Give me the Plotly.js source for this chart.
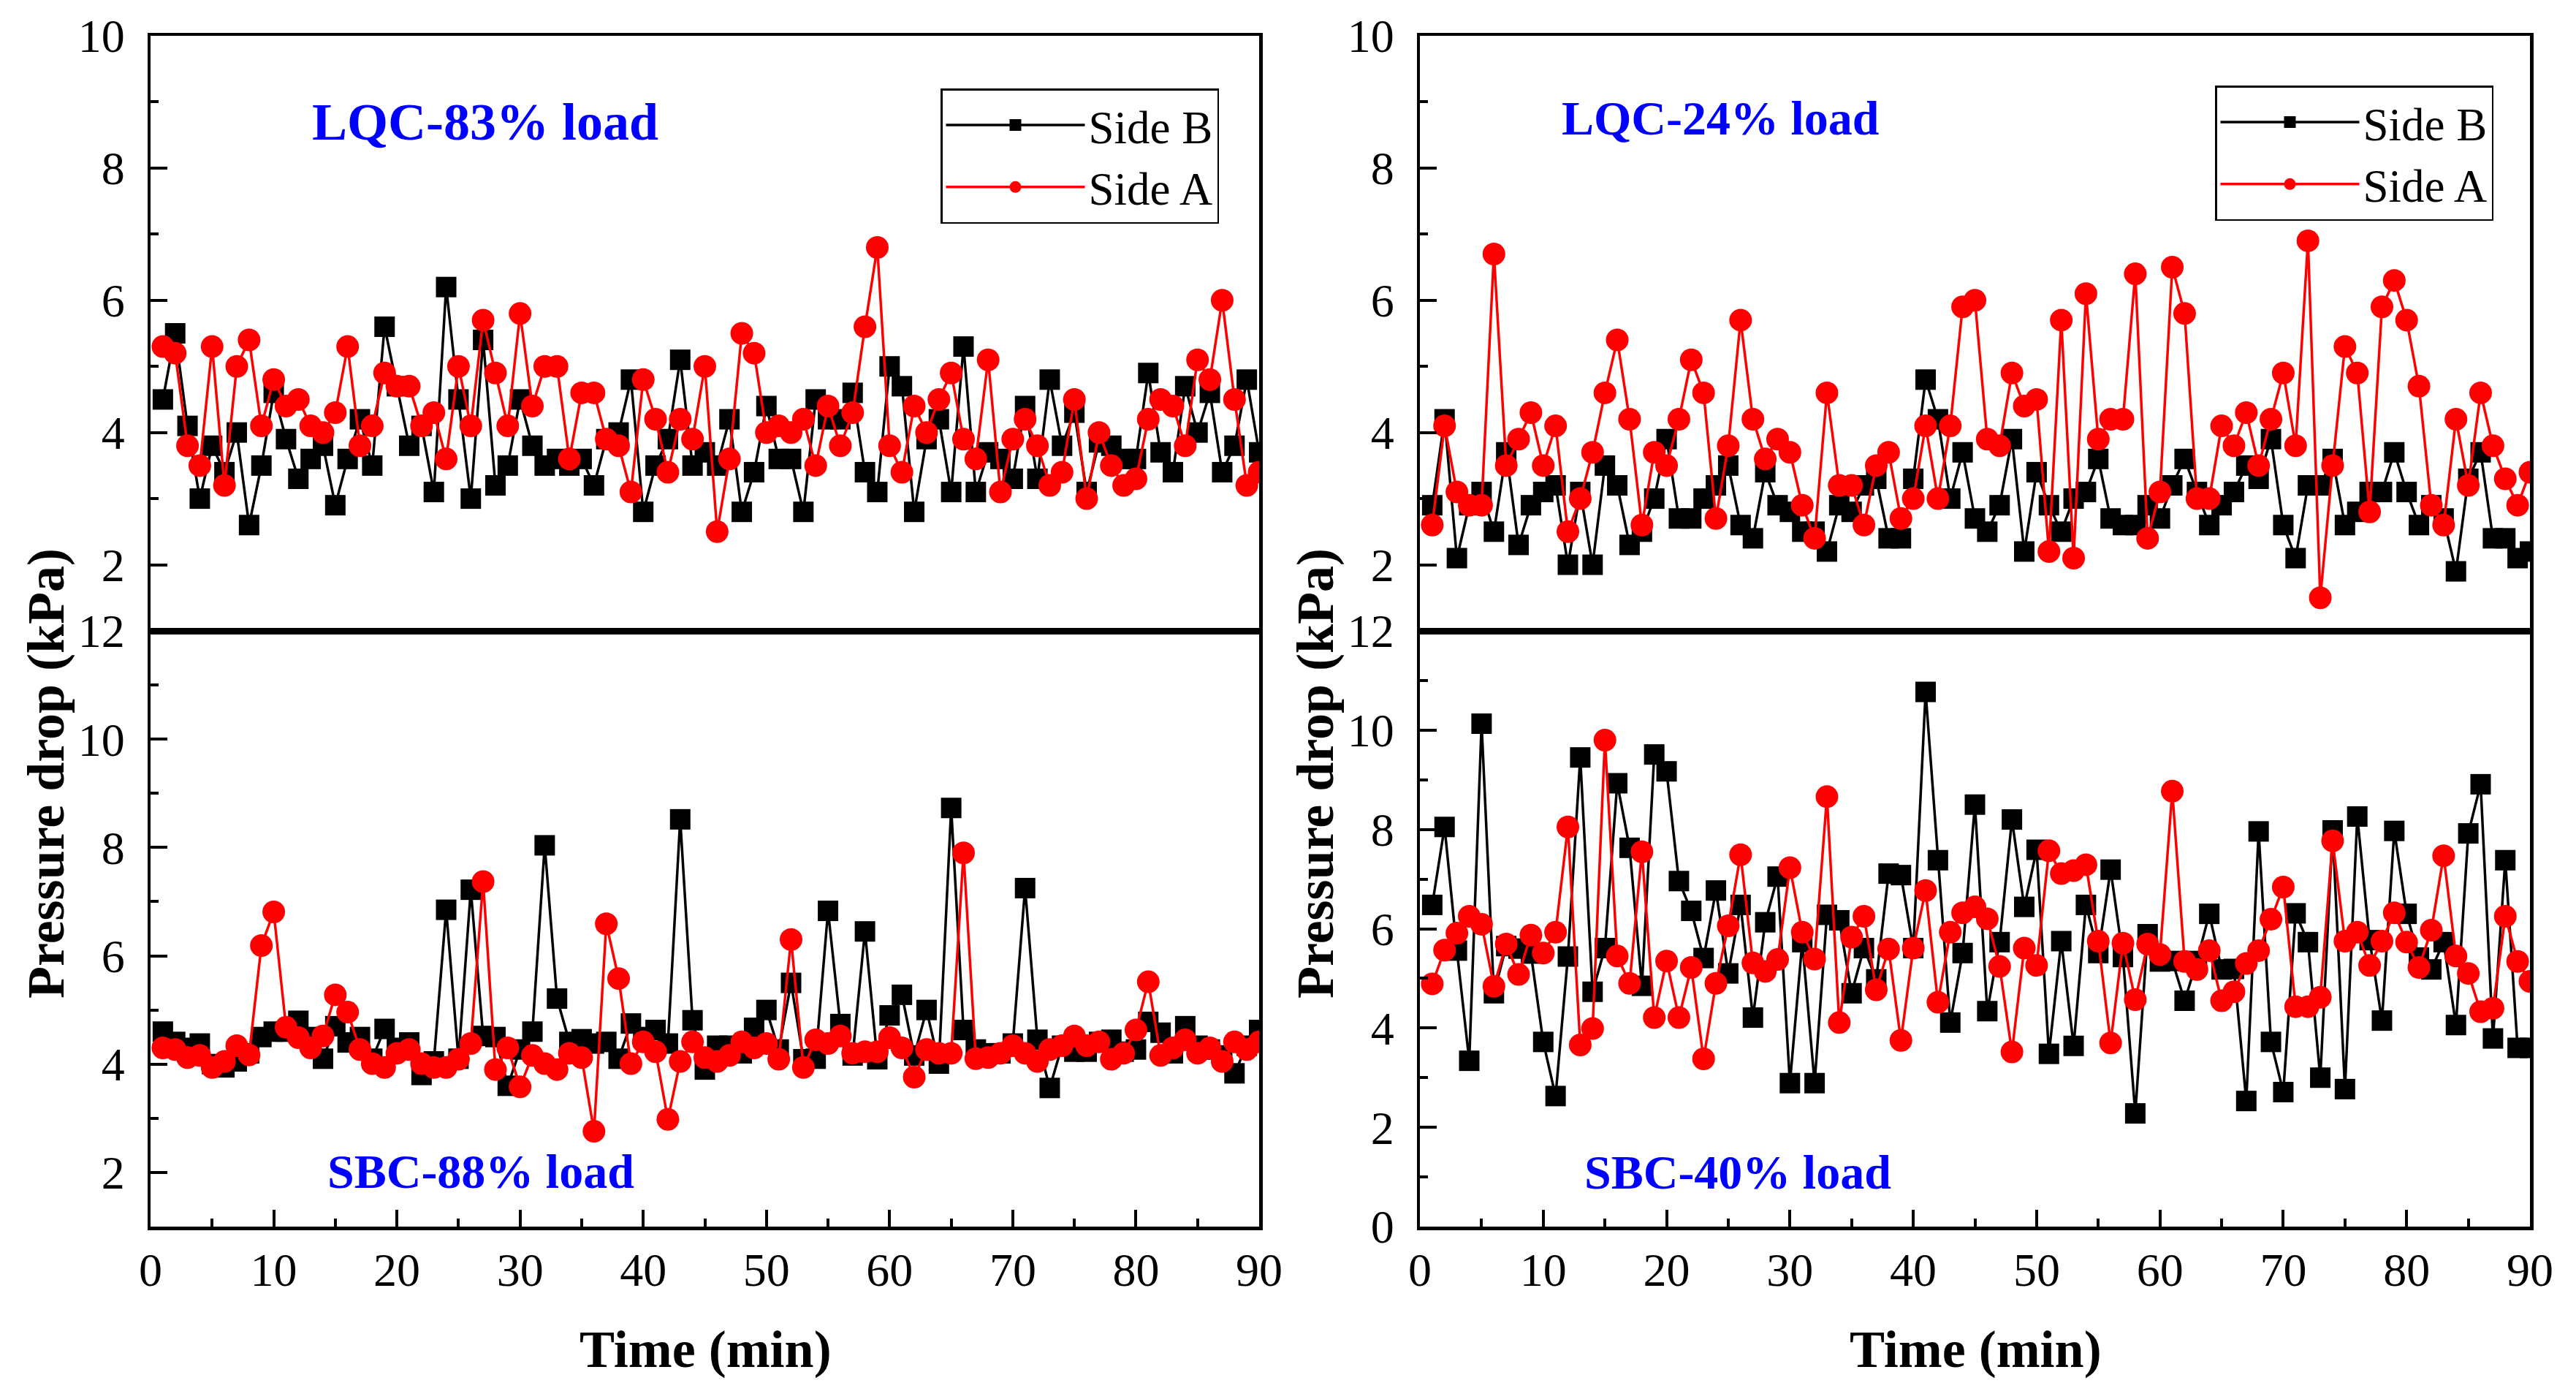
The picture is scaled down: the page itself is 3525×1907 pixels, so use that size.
<!DOCTYPE html>
<html>
<head>
<meta charset="utf-8">
<script src="https://cdn.plot.ly/plotly-3.0.1.min.js"></script>
<style>html,body{margin:0;padding:0;background:#fff;}</style>
</head>
<body>
<div id="chart" style="width:3525px;height:1907px;"></div>
<script>
// ---- data (minutes and pressure drop in kPa) ----
var time = [1,2,3,4,5,6,7,8,9,10,11,12,13,14,15,16,17,18,19,20,21,22,23,24,25,26,27,28,29,30,
31,32,33,34,35,36,37,38,39,40,41,42,43,44,45,46,47,48,49,50,51,52,53,54,55,56,57,58,59,60,
61,62,63,64,65,66,67,68,69,70,71,72,73,74,75,76,77,78,79,80,81,82,83,84,85,86,87,88,89,90];

var lqc83SideB = [4.5,5.5,4.1,3.0,3.8,3.4,4.0,2.6,3.5,4.6, 3.9,3.3,3.6,3.8,2.9,3.6,4.2,3.5,5.6,4.7,
3.8,4.1,3.1,6.2,4.5,3.0,5.4,3.2,3.5,4.5, 3.8,3.5,3.6,3.5,3.6,3.2,3.9,4.0,4.8,2.8,
3.5,3.9,5.1,3.5,3.7,3.5,4.2,2.8,3.4,4.4, 3.6,3.6,2.8,4.5,4.2,4.2,4.6,3.4,3.1,5.0,
4.7,2.8,3.9,4.2,3.1,5.3,3.1,3.7,3.6,3.3, 4.4,3.3,4.8,3.8,4.3,3.1,3.85,3.8,3.6,3.6,
4.9,3.7,3.4,4.7,4.0,4.6,3.4,3.8,4.8,3.7];
var lqc83SideA = [5.3,5.2,3.8,3.5,5.3,3.2,5.0,5.4,4.1,4.8, 4.4,4.5,4.1,4.0,4.3,5.3,3.8,4.1,4.9,4.7,
4.7,4.1,4.3,3.6,5.0,4.1,5.7,4.9,4.1,5.8, 4.4,5.0,5.0,3.6,4.6,4.6,3.9,3.8,3.1,4.8,
4.2,3.4,4.2,3.9,5.0,2.5,3.6,5.5,5.2,4.0, 4.1,4.0,4.2,3.5,4.4,3.8,4.3,5.6,6.8,3.8,
3.4,4.4,4.0,4.5,4.9,3.9,3.6,5.1,3.1,3.9, 4.2,3.8,3.2,3.4,4.5,3.0,4.0,3.5,3.2,3.3,
4.2,4.5,4.4,3.8,5.1,4.8,6.0,4.5,3.2,3.4];

var sbc88SideB = [4.6,4.41,4.3,4.38,4.0,3.94,4.05,4.2,4.5,4.6, 4.6,4.8,4.5,4.1,4.7,4.4,4.5,4.1,4.65,4.3,
4.4,3.8,4.05,6.85,4.1,7.22,4.52,4.5,3.6,4.27, 4.6,8.04,5.21,4.41,4.46,4.38,4.41,4.1,4.75,4.5,
4.63,4.38,8.52,4.81,3.9,4.34,4.34,4.2,4.67,5.0, 4.27,5.5,4.09,4.1,6.83,4.74,4.16,6.45,4.09,4.9,
5.28,4.16,5.0,4.01,8.73,4.63,4.27,4.2,4.2,4.38, 7.25,4.45,3.56,4.34,4.23,4.23,4.41,4.45,4.23,4.27,
4.78,4.58,4.2,4.7,4.34,4.27,4.16,3.83,4.34,4.63];
var sbc88SideA = [4.3,4.27,4.12,4.16,3.94,4.05,4.34,4.17,6.19,6.81, 4.68,4.49,4.3,4.52,5.28,4.96,4.27,4.01,3.94,4.2,
4.27,4.01,3.94,3.94,4.09,4.38,7.37,3.9,4.3,3.58, 4.16,4.01,3.9,4.2,4.12,2.76,6.59,5.58,4.01,4.41,
4.23,2.98,4.05,4.41,4.12,4.05,4.16,4.41,4.3,4.38, 4.09,6.3,3.94,4.45,4.38,4.52,4.2,4.23,4.23,4.49,
4.3,3.76,4.27,4.2,4.2,7.9,4.1,4.12,4.2,4.34, 4.2,4.05,4.27,4.34,4.52,4.34,4.41,4.09,4.2,4.63,
5.52,4.16,4.3,4.45,4.2,4.3,4.05,4.41,4.27,4.41];

var lqc24SideB = [2.9,4.2,2.1,2.9,3.1,2.5,3.7,2.3,2.9,3.1, 3.2,2.0,3.1,2.0,3.5,3.2,2.3,2.5,3.0,3.9,
2.7,2.7,3.0,3.2,3.5,2.6,2.4,3.4,2.9,2.8, 2.5,2.5,2.2,2.9,2.8,3.2,3.3,2.4,2.4,3.3,
4.8,4.2,3.0,3.7,2.7,2.5,2.9,3.9,2.2,3.4, 2.9,2.5,3.0,3.1,3.6,2.7,2.6,2.6,2.9,2.7,
3.2,3.6,3.1,2.6,2.9,3.1,3.5,3.3,3.9,2.6, 2.1,3.2,3.2,3.6,2.6,2.8,3.1,3.1,3.7,3.1,
2.6,2.9,2.7,1.9,3.3,3.7,2.4,2.4,2.1,2.2];
var lqc24SideA = [2.6,4.1,3.1,2.9,2.9,6.7,3.5,3.9,4.3,3.5, 4.1,2.5,3.0,3.7,4.6,5.4,4.2,2.6,3.7,3.5,
4.2,5.1,4.6,2.7,3.8,5.7,4.2,3.6,3.9,3.7, 2.9,2.4,4.6,3.2,3.2,2.6,3.5,3.7,2.7,3.0,
4.1,3.0,4.1,5.9,6.0,3.9,3.8,4.9,4.4,4.5, 2.2,5.7,2.1,6.1,3.9,4.2,4.2,6.4,2.4,3.1,
6.5,5.8,3.0,3.0,4.1,3.8,4.3,3.5,4.2,4.9, 3.8,6.9,1.5,3.5,5.3,4.9,2.8,5.9,6.3,5.7,
4.7,2.9,2.6,4.2,3.2,4.6,3.8,3.3,2.9,3.4];

var sbc40SideB = [6.48,8.05,5.56,3.34,10.13,4.7,5.65,5.6,5.5,3.72, 2.63,5.44,9.45,4.73,5.61,8.93,7.63,4.85,9.51,9.17,
6.96,6.36,5.41,6.77,5.1,6.48,4.21,6.13,7.05,2.89, 5.73,2.89,6.28,6.17,4.7,5.61,4.98,7.11,7.08,5.61,
10.77,7.38,4.11,5.51,8.5,4.34,5.73,8.2,6.44,7.59, 3.48,5.75,3.64,6.48,5.51,7.19,5.43,2.28,5.89,5.34,
5.35,4.55,5.35,6.3,5.18,5.19,2.53,7.96,3.72,2.71, 6.31,5.73,3.0,7.98,2.77,8.26,5.77,4.15,7.97,6.3,
5.42,5.18,5.73,4.06,7.92,8.91,3.79,7.38,3.6,3.6];
var sbc40SideA = [4.89,5.57,5.91,6.25,6.09,4.84,5.69,5.08,5.87,5.51, 5.93,8.05,3.66,3.99,9.8,5.45,4.9,7.55,4.21,5.35,
4.21,5.22,3.38,4.9,6.06,7.49,5.31,5.14,5.38,7.23, 5.93,5.39,8.66,4.11,5.83,6.25,4.77,5.59,3.75,5.61,
6.77,4.52,5.93,6.32,6.44,6.2,5.24,3.52,5.61,5.26, 7.57,7.11,7.17,7.29,5.75,3.7,5.71,4.57,5.69,5.48,
8.77,5.34,5.18,5.56,4.55,4.73,5.3,5.56,6.19,6.84, 4.43,4.43,4.62,7.77,5.75,5.93,5.26,5.75,6.32,5.73,
5.22,5.97,7.47,5.45,5.1,4.33,4.4,6.25,5.34,4.94];

var seriesNames = ['Side B', 'Side A'];
var panelLabels = ['LQC-83% load', 'LQC-24% load', 'SBC-88% load', 'SBC-40% load'];
var xTitle = 'Time (min)';
var yTitle = 'Pressure drop (kPa)';

// ---- styling ----
var FONT = 'Liberation Serif';
var BLACK = '#000000', RED = '#ff0000', BLUE = '#0000ff';

function sideB(x, y, xa, ya, legendId, show) {
  return {x: x, y: y, xaxis: xa, yaxis: ya, type: 'scatter', mode: 'lines+markers',
    name: seriesNames[0], legend: legendId, showlegend: show,
    line: {color: BLACK, width: 3.5},
    marker: {symbol: 'square', size: 28, color: BLACK, line: {width: 0}}};
}
function sideA(x, y, xa, ya, legendId, show) {
  return {x: x, y: y, xaxis: xa, yaxis: ya, type: 'scatter', mode: 'lines+markers',
    name: seriesNames[1], legend: legendId, showlegend: show,
    line: {color: RED, width: 3.5},
    marker: {symbol: 'circle', size: 31, color: RED, line: {width: 0}}};
}

var traces = [
  sideB(time, lqc83SideB, 'x', 'y', 'legend', true),
  sideA(time, lqc83SideA, 'x', 'y', 'legend', true),
  sideB(time, lqc24SideB, 'x2', 'y2', 'legend2', true),
  sideA(time, lqc24SideA, 'x2', 'y2', 'legend2', true),
  sideB(time, sbc88SideB, 'x3', 'y3', 'legend', false),
  sideA(time, sbc88SideA, 'x3', 'y3', 'legend', false),
  sideB(time, sbc40SideB, 'x4', 'y4', 'legend', false),
  sideA(time, sbc40SideA, 'x4', 'y4', 'legend', false)
];

var W = 3525, H = 1907;
var leftDom = [206 / W, 1723 / W];
var rightDom = [1943 / W, 3462 / W];
var topDom = [1 - 863 / H, 1 - 49 / H];
var botDom = [1 - 1678 / H, 1 - 863 / H];

var tickFont = {family: FONT, size: 64, color: BLACK, weight: 'normal'};

function xAxis(dom, anchor, labels) {
  var a = {domain: dom, anchor: anchor, range: [0, 90], showgrid: false, zeroline: false,
    showline: true, linecolor: BLACK, linewidth: 4.5, mirror: true,
    tickfont: tickFont};
  if (labels) {
    a.ticks = 'inside'; a.tick0 = 0; a.dtick = 10; a.ticklen = 23; a.tickwidth = 4; a.tickcolor = BLACK;
    a.showticklabels = true; a.ticklabelstandoff = 0;
    a.minor = {dtick: 5, ticks: 'inside', ticklen: 11, tickwidth: 4, tickcolor: BLACK, showgrid: false};
  } else {
    a.ticks = ''; a.showticklabels = false;
  }
  return a;
}
function yAxis(dom, anchor, range) {
  return {domain: dom, anchor: anchor, range: range, showgrid: false, zeroline: false,
    showline: true, linecolor: BLACK, linewidth: 4.5, mirror: true,
    ticks: 'inside', tick0: 0, dtick: 2, ticklen: 23, tickwidth: 4, tickcolor: BLACK,
    ticklabelstandoff: 18,
    minor: {dtick: 1, ticks: 'inside', ticklen: 11, tickwidth: 4, tickcolor: BLACK, showgrid: false},
    tickfont: tickFont};
}

var panelFontBig = {family: FONT, size: 72, color: BLUE, weight: 'bold'};
var panelFont = {family: FONT, size: 66, color: BLUE, weight: 'bold'};
var titleFont = {family: FONT, size: 72, color: BLACK, weight: 'bold'};

var annotations = [
  {text: '<b>' + panelLabels[0] + '</b>', xref: 'x', yref: 'y', x: 27.2, y: 8.7, showarrow: false, xanchor: 'center', yanchor: 'middle', font: panelFontBig},
  {text: '<b>' + panelLabels[1] + '</b>', xref: 'x2', yref: 'y2', x: 24.4, y: 8.76, showarrow: false, xanchor: 'center', yanchor: 'middle', font: panelFont},
  {text: '<b>' + panelLabels[2] + '</b>', xref: 'x3', yref: 'y3', x: 26.8, y: 2.02, showarrow: false, xanchor: 'center', yanchor: 'middle', font: panelFont},
  {text: '<b>' + panelLabels[3] + '</b>', xref: 'x4', yref: 'y4', x: 25.75, y: 1.1, showarrow: false, xanchor: 'center', yanchor: 'middle', font: panelFont},
  {text: '<b>' + xTitle + '</b>', xref: 'paper', yref: 'paper', x: 965 / W, y: 1 - 1846 / H, showarrow: false, xanchor: 'center', yanchor: 'middle', font: titleFont},
  {text: '<b>' + xTitle + '</b>', xref: 'paper', yref: 'paper', x: 2703 / W, y: 1 - 1846 / H, showarrow: false, xanchor: 'center', yanchor: 'middle', font: titleFont},
  {text: '<b>' + yTitle + '</b>', xref: 'paper', yref: 'paper', x: 63 / W, y: 1 - 1058 / H, showarrow: false, xanchor: 'center', yanchor: 'middle', textangle: -90, font: titleFont},
  {text: '<b>' + yTitle + '</b>', xref: 'paper', yref: 'paper', x: 1800 / W, y: 1 - 1058 / H, showarrow: false, xanchor: 'center', yanchor: 'middle', textangle: -90, font: titleFont}
];

function legendBox(x, y) {
  return {x: x, y: y, xanchor: 'left', yanchor: 'top', bgcolor: '#ffffff',
    bordercolor: BLACK, borderwidth: 2.5, itemwidth: 190, itemsizing: 'trace',
    font: {family: FONT, size: 63, color: BLACK, weight: 'normal'}, tracegroupgap: 0, traceorder: 'normal'};
}

var layout = {
  width: W, height: H, autosize: false,
  margin: {l: 0, r: 0, t: 0, b: 0, pad: 0},
  paper_bgcolor: '#ffffff', plot_bgcolor: '#ffffff',
  font: {family: FONT, color: BLACK},
  xaxis: xAxis(leftDom, 'y', false),
  yaxis: yAxis(topDom, 'x', [1, 10]),
  xaxis2: xAxis(rightDom, 'y2', false),
  yaxis2: yAxis(topDom, 'x2', [1, 10]),
  xaxis3: xAxis(leftDom, 'y3', true),
  yaxis3: yAxis(botDom, 'x3', [1, 12]),
  xaxis4: xAxis(rightDom, 'y4', true),
  yaxis4: yAxis(botDom, 'x4', [0, 12]),
  legend: legendBox(1287 / W, 1 - 121 / H),
  legend2: legendBox(3031 / W, 1 - 117 / H),
  annotations: annotations,
  showlegend: true
};

Plotly.newPlot('chart', traces, layout, {staticPlot: true, displayModeBar: false});
</script>
</body>
</html>
